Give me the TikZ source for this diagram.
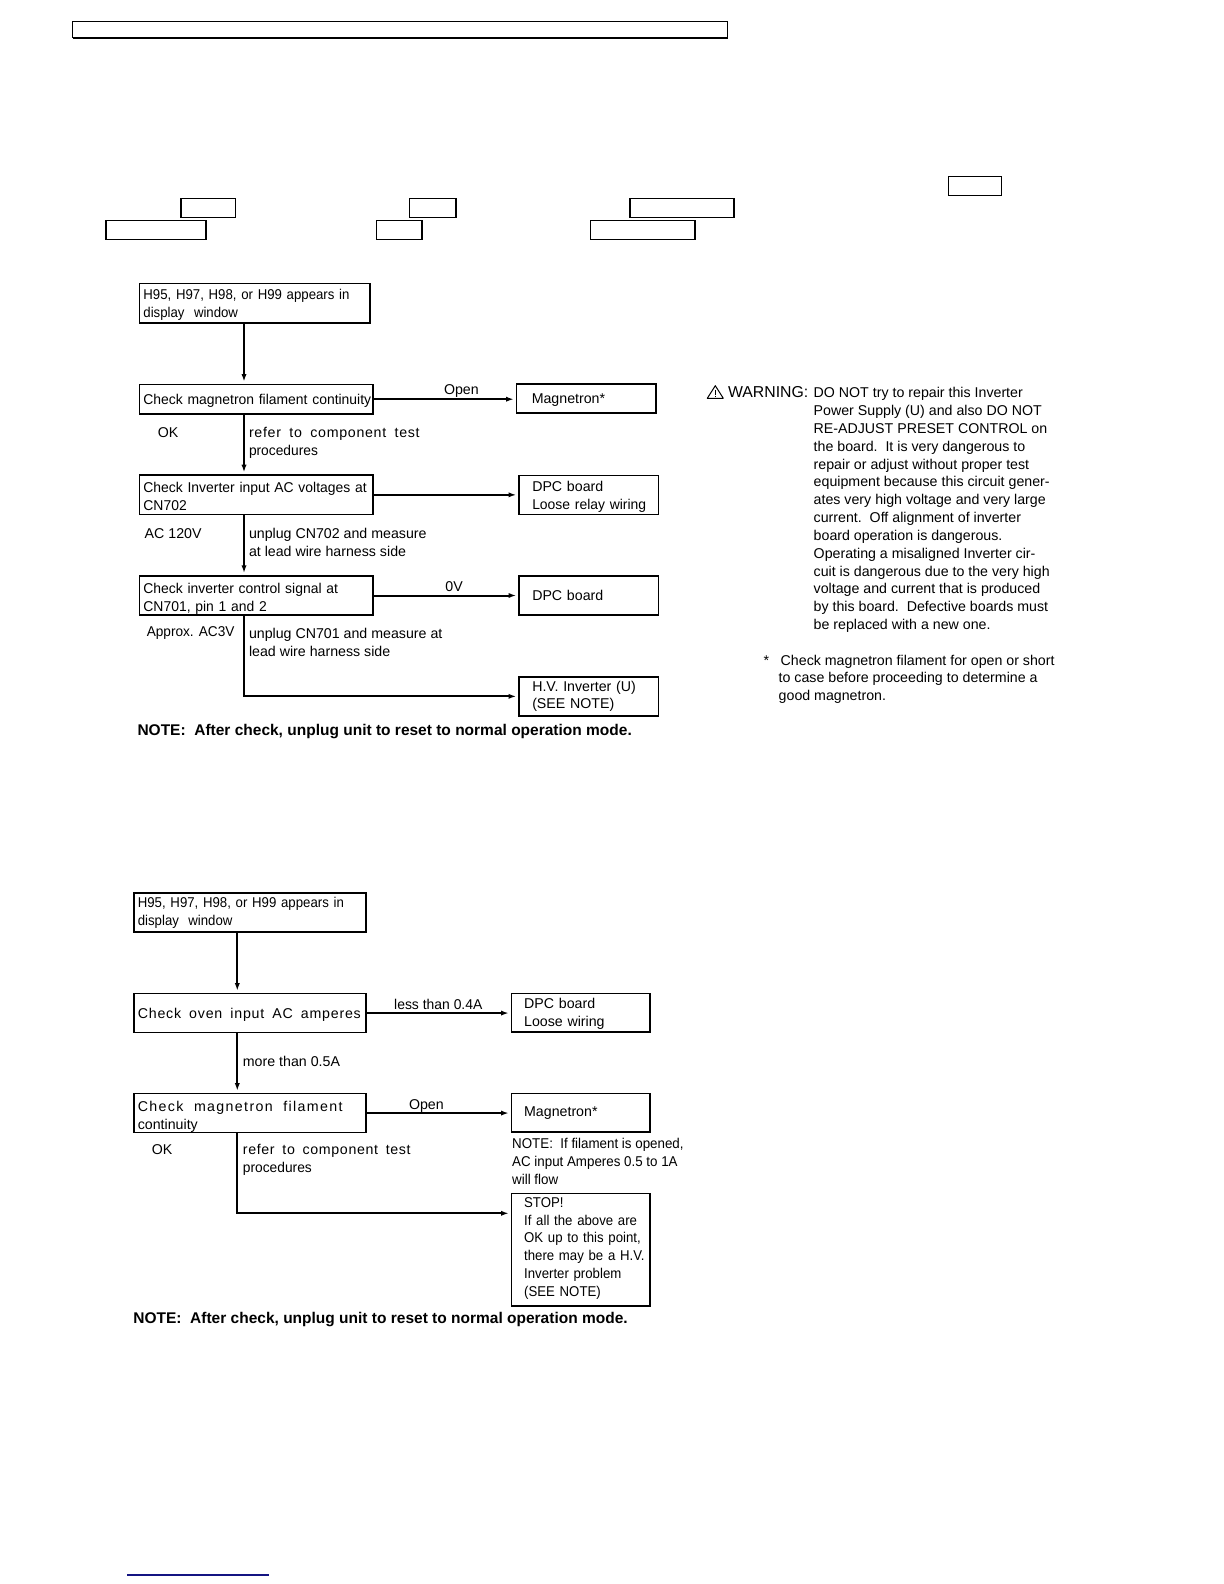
\documentclass[tikz,border=0pt]{standalone}
\usepackage{fontspec}
\setmainfont{Liberation Sans}
\usetikzlibrary{arrows.meta}
\newcommand{\bodyfont}{\fontsize{7.1}{8.92}\selectfont}
\newcommand{\narrowed}[1]{\addfontfeature{FakeStretch=#1}}
\newcommand{\spread}[2]{\addfontfeature{LetterSpace=#1}\spaceskip=#2\fontdimen2\font}
\newcommand{\lowr}[1][6.5pt]{\rule{0pt}{#1}}
\tikzset{
  stepbox/.style 2 args={draw,anchor=north west,line width=0.85pt,inner xsep=2pt,inner ysep=0pt,
    text width=#1*0.5pt-4pt,minimum height=#2*0.5pt,align=left,font=\bodyfont},
  resultbox/.style n args={3}{draw,anchor=north west,line width=0.85pt,inner xsep=#3,inner ysep=0pt,
    text width=#1*0.5pt-2*#3,minimum height=#2*0.5pt,align=left,font=\bodyfont},
  lbl/.style={anchor=west,inner sep=0pt,align=left,font=\bodyfont},
  bold note/.style={anchor=west,inner sep=0pt,font=\fontsize{7.75}{9}\selectfont\bfseries},
  flow/.style={line width=1pt,shorten >=1pt,-{Latex[length=3.8pt,width=2.6pt]}}
}
\begin{document}
\begin{tikzpicture}[x=0.5pt,y=-0.5pt]
\useasboundingbox (0,0) rectangle (1224,1584);
% Empty boxes at the top of the page
\draw[line width=0.5pt] (72.7,21.3) rectangle (727.7,38);
\draw[line width=1.2pt] (72.7,38) -- (727.7,38);
\foreach \xa/\ya/\xb/\yb in {948.4/176.3/1001.3/195.3,181/198.3/235.4/217.3,409.5/198.3/456/217.3,
  630/198.3/734/217.3,106/220.3/206/239.3,376.3/220.3/422/239.3,590.6/220.3/695/239.3}
  \draw[line width=0.6pt] (\xa,\ya) rectangle (\xb,\yb);
% Upper chart
\coordinate (trunkA) at (244,0);
\node[stepbox={230.4}{39.3}] (startA) at (138.6,282.7) {\narrowed{0.93}\lowr\mbox{H95, H97, H98, or H99 appears in}\\display\ \ window};
\node[stepbox={233.4}{29.3}] (filamentA) at (138.6,383.7) {\narrowed{0.98}\lowr\mbox{Check magnetron filament continuity}};
\node[resultbox={139.7}{28.7}{7.6pt}] (magnetronA) at (515.7,383.3) {\lowr Magnetron*};
\node[stepbox={233.4}{39.4}] (inputA) at (138.6,474.3) {\narrowed{0.98}\lowr\mbox{Check Inverter input AC voltages at}\\CN702};
\node[resultbox={139.3}{39}{6.6pt}] (dpcA) at (518.2,474.7) {\lowr DPC board\\\narrowed{0.98}\mbox{Loose relay wiring}};
\node[stepbox={233.4}{39.3}] (controlA) at (138.6,575) {\narrowed{0.98}\lowr[8.5pt]\mbox{Check inverter control signal at}\\CN701, pin 1 and 2};
\node[resultbox={139.3}{39}{6.6pt}] (dpcB) at (518.2,575.3) {DPC board};
\node[resultbox={139.3}{39}{6.6pt}] (hvA) at (518.2,676) {H.V. Inverter (U)\\(SEE NOTE)};
\draw[flow] (startA.south -| trunkA) -- (filamentA.north -| trunkA);
\draw[flow] (filamentA.south -| trunkA) -- (inputA.north -| trunkA);
\draw[flow] (inputA.south -| trunkA) -- (controlA.north -| trunkA);
\draw[flow] (controlA.south -| trunkA) |- (hvA.west);
\draw[flow] (filamentA.east) -- (filamentA.east -| magnetronA.west);
\draw[flow] (inputA.east) -- (inputA.east -| dpcA.west);
\draw[flow] (controlA.east) -- (controlA.east -| dpcB.west);
\node[lbl] (openA) at (443.6,391) {Open};
\node[lbl] (okA) at (157.5,432.5) {OK};
\node[lbl] (referA) at (248.6,442.5) {{\spread{5}{1.8}refer to component test}\\\narrowed{0.97}procedures};
\node[lbl] (voltsA) at (144.3,533.3) {AC 120V};
\node[lbl] (unplugA) at (248.6,542) {unplug CN702 and measure\\at lead wire harness side};
\node[lbl] (zeroA) at (445,586.3) {0V};
\node[lbl] (approxA) at (146.4,632.7) {\narrowed{0.96}Approx. AC3V};
\node[lbl] (unplugB) at (248.6,642) {unplug CN701 and measure at\\lead wire harness side};
\node[bold note] (noteA) at (137.1,732) {NOTE:\ \ After check, unplug unit to reset to normal operation mode.};
% Warning text on the right
\draw[line width=0.5pt,line join=round] (707.3,398.3) -- (715.3,385.7) -- (723.3,398.3) -- cycle;
\draw[line width=0.5pt] (715.3,389.5) -- (715.3,394.5) (715.3,395.6) -- (715.3,397);
\node[lbl,font=\fontsize{7.9}{9}\selectfont] (warnhead) at (727.7,392.3) {WARNING:};
\node[lbl] (warntext) at (813.3,510) {DO NOT try to repair this Inverter\\Power Supply (U) and also DO NOT\\RE-ADJUST PRESET CONTROL on\\the board.\ \ It is very dangerous to\\repair or adjust without proper test\\equipment because this circuit gener-\\ates very high voltage and very large\\current.\ \ Off alignment of inverter\\board operation is dangerous.\\Operating a misaligned Inverter cir-\\cuit is dangerous due to the very high\\voltage and current that is produced\\by this board.\ \ Defective boards must\\be replaced with a new one.};
\node[lbl] (star) at (763.3,661) {*};
\node[lbl] (startext) at (778.3,679.3) {\hspace*{1pt}Check magnetron filament for open or short\\to case before proceeding to determine a\\good magnetron.};
% Lower chart
\coordinate (trunkB) at (237.3,0);
\coordinate (stopentry) at (510.7,1213.3);
\node[stepbox={232}{38.7}] (startB) at (133,892.3) {\narrowed{0.93}\mbox{H95, H97, H98, or H99 appears in}\\display\ \ window};
\node[stepbox={232}{39}] (ovenB) at (133,992.7) {\spread{5.5}{1.7}\lowr\mbox{Check oven input AC amperes}};
\node[resultbox={138.3}{38.6}{6.3pt}] (dpcC) at (510.7,992.7) {\lowr DPC board\\Loose wiring};
\node[stepbox={232}{39}] (filamentB) at (133,1092.7) {\lowr[9pt]{\spread{9.5}{2}\mbox{Check magnetron filament}}\\continuity};
\node[resultbox={138.3}{38.6}{6.3pt}] (magnetronB) at (510.7,1092.7) {Magnetron*};
\node[resultbox={138.3}{112.6}{6.3pt},font=\bodyfont\narrowed{0.93}] (stopB) at (510.7,1192.7) {\mbox{STOP!}\\\mbox{If all the above are}\\\mbox{OK up to this point,}\\\mbox{there may be a H.V.}\\\mbox{Inverter problem}\\\mbox{(SEE NOTE)}\vspace{1.5pt}};
\draw[flow] (startB.south -| trunkB) -- (ovenB.north -| trunkB);
\draw[flow] (ovenB.south -| trunkB) -- (filamentB.north -| trunkB);
\draw[flow] (filamentB.south -| trunkB) |- (stopentry);
\draw[flow] (ovenB.east) -- (ovenB.east -| dpcC.west);
\draw[flow] (filamentB.east) -- (filamentB.east -| magnetronB.west);
\node[lbl] (lessB) at (393.8,1004.3) {\narrowed{0.98}less than 0.4A};
\node[lbl] (moreB) at (242.5,1061) {more than 0.5A};
\node[lbl] (openB) at (408.6,1106) {Open};
\node[lbl] (okB) at (151.4,1149.7) {OK};
\node[lbl] (referB) at (242.5,1160) {{\spread{4.5}{1.7}refer to component test}\\\narrowed{0.97}procedures};
\node[lbl,font=\bodyfont\narrowed{0.94}] (filnoteB) at (511.8,1161.3) {NOTE:\ \ If filament is opened,\\AC input Amperes 0.5 to 1A\\will flow};
\node[bold note] (noteB) at (133,1320) {NOTE:\ \ After check, unplug unit to reset to normal operation mode.};
% Rule at the foot of the page
\draw[line width=0.6pt,color={rgb,255:red,20;green,20;blue,130}] (127,1575) -- (268.7,1575);
\end{tikzpicture}
\end{document}
